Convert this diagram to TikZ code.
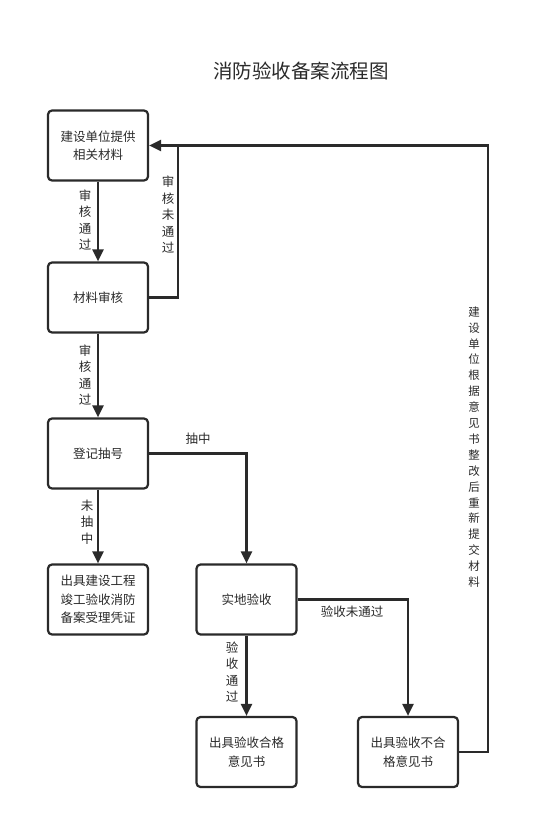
\documentclass[tikz,border=0pt]{standalone}
\usepackage{fontspec}
\newfontfamily\cjk{Noto Sans CJK SC}
\usetikzlibrary{arrows.meta}
\definecolor{ink}{HTML}{2A2A2A}
\begin{document}
\begin{tikzpicture}[x=1pt,y=-1pt,
  box/.style={draw=ink,line width=2.2pt,rounded corners=4pt,minimum width=100pt,minimum height=70pt,inner sep=2pt,align=center,text=ink,font=\cjk\fontsize{12.5}{18.5}\selectfont},
  conn/.style={draw=ink,line width=2.2pt},
  arr/.style={conn,-{Triangle[length=12pt,width=11pt]}},
  lab/.style={text=ink,font=\cjk\fontsize{12.5}{16.5}\selectfont,align=center,inner sep=0pt},
  vlab/.style={text=ink,font=\cjk\fontsize{11.5}{15.9}\selectfont,align=center,inner sep=0pt}]
\useasboundingbox (0,0) rectangle (549,816);
\fill[white] (0,0) rectangle (549,816);
\node[text=ink,font=\cjk\fontsize{19.5}{22}\selectfont] (title) at (301,71) {消防验收备案流程图};
\node[box] (b1) at (98,145.5) {建设单位提供\\相关材料};
\node[box] (b2) at (98,297.5) {材料审核};
\node[box] (b3) at (98,453.5) {登记抽号};
\node[box] (b4) at (98,599.5) {出具建设工程\\竣工验收消防\\备案受理凭证};
\node[box] (b5) at (246.5,599.5) {实地验收};
\node[box] (b6) at (246.5,752) {出具验收合格\\意见书};
\node[box] (b7) at (408,752) {出具验收不合\\格意见书};
\coordinate (lx) at (178,0);
\coordinate (rx) at (488,0);
\draw[arr] (b1) -- (b2);
\draw[arr] (b2) -- (b3);
\draw[arr] (b3) -- (b4);
\draw[arr] (b3.east) -| (b5.north);
\draw[arr] (b5) -- (b6);
\draw[arr] (b5.east) -| (b7.north);
\draw[conn] (b2.east) -| (lx |- b1.east);
\draw[arr] (b7.east) -| (rx |- b1.east) -- (b1.east);
\node[lab] (l1) at (85,220) {审\\核\\通\\过};
\node[lab] (l2) at (168,215) {审\\核\\未\\通\\过};
\node[lab] (l3) at (85,375) {审\\核\\通\\过};
\node[lab] (l4) at (87,522) {未\\抽\\中};
\node[lab] (l5) at (198,439) {抽中};
\node[lab] (l6) at (232,672) {验\\收\\通\\过};
\node[lab] (l7) at (352,612) {验收未通过};
\node[vlab] (l8) at (474,447) {建\\设\\单\\位\\根\\据\\意\\见\\书\\整\\改\\后\\重\\新\\提\\交\\材\\料};
\end{tikzpicture}
\end{document}
